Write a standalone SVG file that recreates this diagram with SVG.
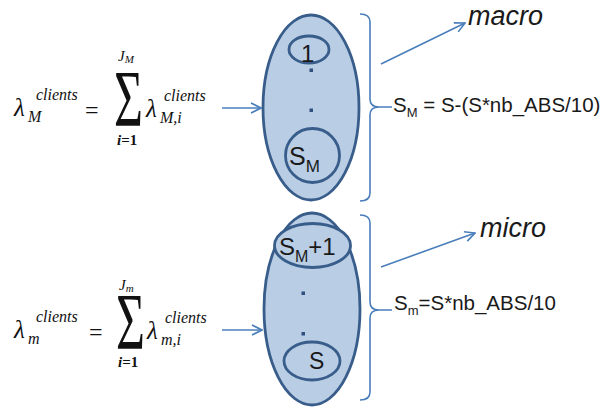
<svg xmlns="http://www.w3.org/2000/svg" width="605" height="409" viewBox="0 0 605 409">
  <defs>
    <marker id="ah" viewBox="0 0 12 12" refX="11" refY="6" markerWidth="12" markerHeight="12" markerUnits="userSpaceOnUse" orient="auto">
      <path d="M1,1 L11,6 L1,11" fill="none" stroke="#4a7ebb" stroke-width="1.6"/>
    </marker>
  </defs>
  <style>
    .big { fill: #b9cde5; stroke: #385d8a; stroke-width: 2.8; }
    .sm { fill: #b9cde5; stroke: #385d8a; stroke-width: 2.8; }
    .dot { fill: #2f4f7f; }
    .conn { fill: none; stroke: #4a7ebb; stroke-width: 1.6; }
    .lbl { font-family: "Liberation Sans", Arial, sans-serif; fill: #1a1a1a; }
    .math { font-family: "Liberation Serif", "DejaVu Serif", serif; font-style: italic; fill: #111; }
    .up { font-family: "Liberation Serif", "DejaVu Serif", serif; font-style: normal; fill: #111; }
  </style>
  <rect width="605" height="409" fill="#ffffff"/>

  <g id="connectors">
    <line class="conn" x1="222" y1="108" x2="261" y2="108" marker-end="url(#ah)"/>
    <line class="conn" x1="222" y1="330" x2="262" y2="330" marker-end="url(#ah)"/>
    <line class="conn" x1="381" y1="64" x2="465" y2="23" marker-end="url(#ah)"/>
    <line class="conn" x1="381" y1="267" x2="475" y2="233" marker-end="url(#ah)"/>
    <path class="conn" d="M360,14 Q370,14 370,22 L370,99 Q370,107 379,107 L392,107 M379,107 Q370,107 370,115 L370,193 Q370,201 360,201"/>
    <path class="conn" d="M360,215 Q370,215 370,223 L370,302 Q370,310 379,310 L392,310 M379,310 Q370,310 370,318 L370,392 Q370,400 360,400"/>
  </g>

  <g id="formula-macro">
    <text class="math" x="14" y="116" font-size="25">λ</text>
    <text class="math" x="36" y="100" font-size="16">clients</text>
    <text class="math" x="28" y="122" font-size="16">M</text>
    <text class="up" x="85" y="118" font-size="24">=</text>
    <text class="up" font-size="46" transform="translate(114,126) scale(1.08,1.75)">Σ</text>
    <text class="math" x="118" y="61" font-size="15">J<tspan font-size="11" dy="2">M</tspan></text>
    <text class="up" x="117" y="145" font-size="15" font-weight="bold"><tspan font-style="italic">i</tspan>=1</text>
    <text class="math" x="146" y="117" font-size="25">λ</text>
    <text class="math" x="164" y="101" font-size="16">clients</text>
    <text class="math" x="160" y="123" font-size="16">M,i</text>
  </g>

  <g id="formula-micro">
    <text class="math" x="14" y="338" font-size="25">λ</text>
    <text class="math" x="36" y="322" font-size="16">clients</text>
    <text class="math" x="28" y="344" font-size="16">m</text>
    <text class="up" x="89" y="340" font-size="24">=</text>
    <text class="up" font-size="46" transform="translate(116,349) scale(1.08,1.75)">Σ</text>
    <text class="math" x="119" y="290" font-size="15">J<tspan font-size="11" dy="2">m</tspan></text>
    <text class="up" x="118" y="367" font-size="15" font-weight="bold"><tspan font-style="italic">i</tspan>=1</text>
    <text class="math" x="147" y="339" font-size="25">λ</text>
    <text class="math" x="165" y="323" font-size="16">clients</text>
    <text class="math" x="161" y="345" font-size="16">m,i</text>
  </g>

  <g id="macro-cluster">
    <ellipse class="big" cx="311" cy="107.5" rx="48" ry="92.5"/>
    <ellipse class="sm" cx="309" cy="49.5" rx="20" ry="13.5"/>
    <text class="lbl" x="301" y="62" font-size="24">1</text>
    <rect class="dot" x="309.5" y="68.5" width="3.5" height="3.5"/>
    <rect class="dot" x="309.5" y="108.5" width="3.5" height="3.5"/>
    <circle class="sm" cx="312.5" cy="155.5" r="27"/>
    <text class="lbl" x="289" y="165" font-size="25">S<tspan font-size="17" dy="7">M</tspan></text>
  </g>

  <g id="micro-cluster">
    <ellipse class="big" cx="312" cy="309" rx="48" ry="96"/>
    <ellipse class="sm" cx="312.5" cy="245.5" rx="38" ry="22"/>
    <text class="lbl" x="279" y="255" font-size="24">S<tspan font-size="16" dy="7">M</tspan><tspan dy="-7">+1</tspan></text>
    <rect class="dot" x="301.5" y="291.5" width="3.5" height="3.5"/>
    <rect class="dot" x="301.5" y="332" width="3.5" height="3.5"/>
    <ellipse class="sm" cx="312" cy="361" rx="28" ry="19"/>
    <text class="lbl" x="309" y="369" font-size="23">S</text>
  </g>

  <g id="labels">
    <text class="lbl" x="468" y="25" font-size="27" font-style="italic">macro</text>
    <text class="lbl" x="480" y="237" font-size="27" font-style="italic">micro</text>
    <text class="lbl" x="393" y="112" font-size="20.5">S<tspan font-size="13" dy="5">M</tspan><tspan dy="-5"> = S-(S*nb_ABS/10)</tspan></text>
    <text class="lbl" x="394" y="310" font-size="20.5">S<tspan font-size="13" dy="5">m</tspan><tspan dy="-5">=S*nb_ABS/10</tspan></text>
  </g>
</svg>
